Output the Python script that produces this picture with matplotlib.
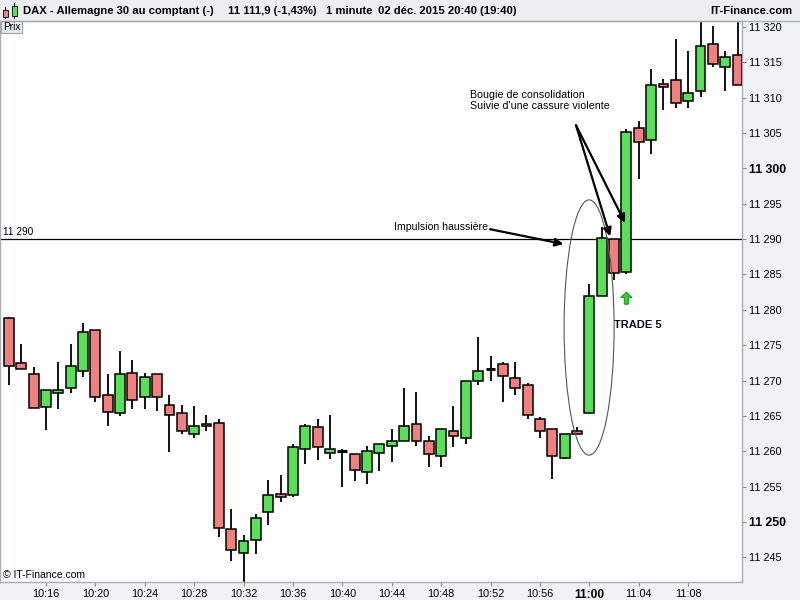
import matplotlib
matplotlib.use("Agg")
import matplotlib.pyplot as plt
from matplotlib.patches import Rectangle, Ellipse, FancyArrow
import numpy as np

# ---------------- data ----------------
times = ["10:13", "10:14", "10:15", "10:16", "10:17", "10:18", "10:19", "10:20", "10:21", "10:22",
         "10:23", "10:24", "10:25", "10:26", "10:27", "10:28", "10:29", "10:30", "10:31", "10:32",
         "10:33", "10:34", "10:35", "10:36", "10:37", "10:38", "10:39", "10:40", "10:41", "10:42",
         "10:43", "10:44", "10:45", "10:46", "10:47", "10:48", "10:49", "10:50", "10:51", "10:52",
         "10:53", "10:54", "10:55", "10:56", "10:57", "10:58", "10:59", "11:00", "11:01", "11:02",
         "11:03", "11:04", "11:05", "11:06", "11:07", "11:08", "11:09", "11:10", "11:11", "11:12"]
opens = [11278.9, 11272.5, 11270.9, 11266.3, 11268.3, 11269.0, 11271.3, 11277.1, 11267.9, 11265.4,
         11271.0, 11267.6, 11270.9, 11266.5, 11265.4, 11262.4, 11263.8, 11264.0, 11249.0, 11245.6,
         11247.5, 11251.4, 11254.0, 11253.8, 11260.3, 11263.4, 11259.8, 11260.0, 11259.6, 11257.0,
         11259.8, 11260.8, 11261.5, 11263.8, 11261.5, 11259.3, 11262.8, 11261.8, 11269.9, 11271.6,
         11272.4, 11270.3, 11269.3, 11264.5, 11263.1, 11259.0, 11262.8, 11265.4, 11282.0, 11290.0,
         11285.4, 11305.7, 11304.0, 11312.0, 11312.5, 11309.6, 11311.0, 11317.6, 11314.4, 11316.0]
highs = [11279.0, 11275.2, 11271.9, 11268.6, 11272.6, 11275.2, 11278.1, 11277.1, 11270.9, 11274.2,
         11272.9, 11271.1, 11270.9, 11268.0, 11266.5, 11266.4, 11265.1, 11264.6, 11251.8, 11248.2,
         11251.1, 11255.9, 11256.6, 11261.0, 11263.8, 11264.6, 11265.1, 11260.3, 11259.6, 11260.8,
         11261.0, 11263.1, 11268.9, 11268.4, 11262.1, 11263.1, 11266.4, 11270.0, 11276.2, 11273.5,
         11272.6, 11272.6, 11269.6, 11264.8, 11263.1, 11262.5, 11263.4, 11283.6, 11291.7, 11290.0,
         11305.6, 11306.7, 11314.0, 11312.7, 11318.3, 11316.6, 11321.5, 11320.2, 11316.6, 11321.5]
lows = [11269.3, 11271.6, 11266.1, 11263.0, 11266.0, 11268.3, 11270.5, 11267.0, 11263.5, 11265.0,
        11266.0, 11266.0, 11265.7, 11259.9, 11262.5, 11261.8, 11262.8, 11247.8, 11244.4, 11241.5,
        11245.5, 11249.5, 11252.8, 11253.5, 11258.2, 11258.8, 11258.9, 11255.0, 11255.8, 11255.3,
        11257.2, 11258.5, 11261.5, 11260.8, 11257.8, 11257.8, 11260.6, 11261.0, 11269.3, 11270.0,
        11267.0, 11268.0, 11264.5, 11261.8, 11256.0, 11258.9, 11262.4, 11265.4, 11281.9, 11284.2,
        11285.1, 11298.5, 11302.1, 11308.2, 11308.6, 11308.6, 11310.1, 11314.4, 11311.0, 11311.8]
closes = [11272.0, 11271.6, 11266.1, 11268.6, 11268.7, 11272.0, 11276.8, 11267.6, 11265.5, 11270.9,
          11267.3, 11270.5, 11267.6, 11265.1, 11262.8, 11263.5, 11263.5, 11249.2, 11246.0, 11247.3,
          11250.5, 11253.8, 11253.5, 11260.6, 11263.5, 11260.6, 11260.3, 11260.0, 11257.3, 11260.0,
          11261.0, 11261.4, 11263.5, 11261.4, 11259.6, 11263.1, 11262.1, 11270.0, 11271.3, 11271.6,
          11270.6, 11269.0, 11265.1, 11262.8, 11259.3, 11262.5, 11262.4, 11281.9, 11290.1, 11285.2,
          11305.1, 11303.7, 11311.8, 11311.5, 11309.2, 11310.6, 11317.3, 11314.7, 11315.7, 11311.8]

ytick_vals = [11245, 11250, 11255, 11260, 11265, 11270, 11275, 11280, 11285, 11290,
              11295, 11300, 11305, 11310, 11315, 11320]
ytick_labels = ["11 245", "11 250", "11 255", "11 260", "11 265", "11 270", "11 275", "11 280",
                "11 285", "11 290", "11 295", "11 300", "11 305", "11 310", "11 315", "11 320"]
ytick_bold = ["11 250", "11 300"]
xtick_labels = ["10:16", "10:20", "10:24", "10:28", "10:32", "10:36", "10:40", "10:44",
                "10:48", "10:52", "10:56", "11:00", "11:04", "11:08"]
xtick_bold = ["11:00"]
level_line = 11290

# ---------------- style ----------------
plt.rcParams['font.family'] = ['Liberation Sans', 'DejaVu Sans']
PANEL = '#f0f2f5'
SPINE = '#a8adb3'
RED = '#f07f7f'
GREEN = '#58e058'

fig = plt.figure(figsize=(8, 6), dpi=100, facecolor=PANEL)
ax = fig.add_axes([0.0, 0.03, 0.9275, 0.935])
ax.set_facecolor('white')

# candles
w = 0.8
for i, (o, h, l, c) in enumerate(zip(opens, highs, lows, closes)):
    ax.vlines(i, l, h, color='black', lw=1.3, zorder=2)
    if o == c:
        ax.hlines(o, i - w / 2, i + w / 2, color='black', lw=2.2, zorder=3)
    else:
        ax.add_patch(Rectangle((i - w / 2, min(o, c)), w, abs(c - o),
                               facecolor=GREEN if c > o else RED,
                               edgecolor='black', lw=1.1, zorder=3))

ax.set_xlim(-0.72, 59.36)
ax.set_ylim(11241.5, 11320.85)

# level line
ax.axhline(level_line, color='black', lw=0.9, zorder=1)
ax.text(-0.47, level_line + 0.35, "11 290", fontsize=7.3, ha='left', va='bottom')

# axes ticks
ax.yaxis.tick_right()
ax.set_yticks(ytick_vals)
ax.set_yticklabels(ytick_labels)
ax.set_xticks([times.index(t) for t in xtick_labels])
ax.set_xticklabels(xtick_labels)
ax.tick_params(axis='y', direction='out', length=3, color='#888888', labelsize=7.8, pad=2)
ax.tick_params(axis='x', direction='out', length=3, color='#888888', labelsize=7.8, pad=2)
for lab in ax.get_yticklabels():
    if lab.get_text() in ytick_bold:
        lab.set_fontweight('bold')
        lab.set_fontsize(8.8)
for lab in ax.get_xticklabels():
    if lab.get_text() in xtick_bold:
        lab.set_fontweight('bold')
        lab.set_fontsize(8.6)
for s in ax.spines.values():
    s.set_color(SPINE)
    s.set_linewidth(1)

# annotations
ax.annotate("", xy=(44.9, 11289.3), xytext=(38.96, 11291.4),
            arrowprops=dict(arrowstyle='-|>', color='black', lw=1.6, mutation_scale=12,
                            shrinkA=0, shrinkB=0), zorder=5)
ax.text(31.17, 11291.7, "Impulsion haussière", fontsize=7.6, ha='left', va='center')

ax.text(37.34, 11309.6, "Bougie de consolidation\nSuivie d'une cassure violente",
        fontsize=7.7, ha='left', va='center', linespacing=1.22)
for tx, ty in [(48.68, 11290.4), (49.89, 11292.3)]:
    ax.annotate("", xy=(tx, ty), xytext=(45.92, 11306.1),
                arrowprops=dict(arrowstyle='-|>', color='black', lw=1.6, mutation_scale=12,
                                shrinkA=0, shrinkB=0), zorder=5)

ax.add_patch(Ellipse((46.98, 11277.5), 4.05, 36.1, fill=False, edgecolor='#555555', lw=0.8, zorder=4))

ax.add_patch(FancyArrow(50, 11280.8, 0, 1.7, width=0.33, head_width=0.9, head_length=0.75,
                        length_includes_head=True, facecolor='#3ccc3c', edgecolor='#1f9a1f',
                        lw=0.8, zorder=5))
ax.text(49.0, 11277.85, "TRADE 5", fontsize=8, fontweight='bold', color='#0a0a20',
        ha='left', va='center')

# header bar
fig.patches.append(Rectangle((0, 1 - 20 / 600), 1, 20 / 600, transform=fig.transFigure,
                             facecolor='#eceef1', edgecolor='none', zorder=0))
fig.add_artist(plt.Line2D([0, 1], [1 - 20.5 / 600, 1 - 20.5 / 600], transform=fig.transFigure,
                          color=SPINE, lw=1))
hy = 1 - 10.5 / 600
fig.text(23 / 800, hy, "DAX - Allemagne 30 au comptant (-)", fontsize=8.1, fontweight='bold', va='center')
fig.text(228 / 800, hy, "11 111,9 (-1,43%)", fontsize=8.1, fontweight='bold', va='center')
fig.text(326 / 800, hy, "1 minute", fontsize=8.1, fontweight='bold', va='center')
fig.text(378 / 800, hy, "02 déc. 2015 20:40 (19:40)", fontsize=8.1, fontweight='bold', va='center')
fig.text(792 / 800, hy, "IT-Finance.com", fontsize=8.1, fontweight='bold', va='center', ha='right')

# header icon (two small candles)
def fig_rect(x0, y0, x1, y1, fc):
    fig.patches.append(Rectangle((x0 / 800, 1 - y1 / 600), (x1 - x0) / 800, (y1 - y0) / 600,
                                 transform=fig.transFigure, facecolor=fc, edgecolor='black',
                                 lw=0.6, zorder=3))
fig.add_artist(plt.Line2D([5 / 800, 5 / 800], [1 - 18 / 600, 1 - 7 / 600], transform=fig.transFigure, color='black', lw=0.7))
fig.add_artist(plt.Line2D([14 / 800, 14 / 800], [1 - 18 / 600, 1 - 3 / 600], transform=fig.transFigure, color='black', lw=0.7))
fig_rect(3, 10, 7.5, 16.5, RED)
fig_rect(11.5, 6, 16.5, 16, GREEN)

# "Prix" label box
fig.patches.append(Rectangle((1 / 800, 1 - 33 / 600), 21 / 800, 12 / 600, transform=fig.transFigure,
                             facecolor='#e6e8ec', edgecolor='#a0a4a8', lw=0.8, zorder=3))
fig.text(11.5 / 800, 1 - 27.5 / 600, "Prix", fontsize=7.3, ha='center', va='center', zorder=4)

# copyright
fig.text(3 / 800, 1 - 575 / 600, "© IT-Finance.com", fontsize=7.5, ha='left', va='center')

fig.savefig("out.png", dpi=100, facecolor=PANEL)
